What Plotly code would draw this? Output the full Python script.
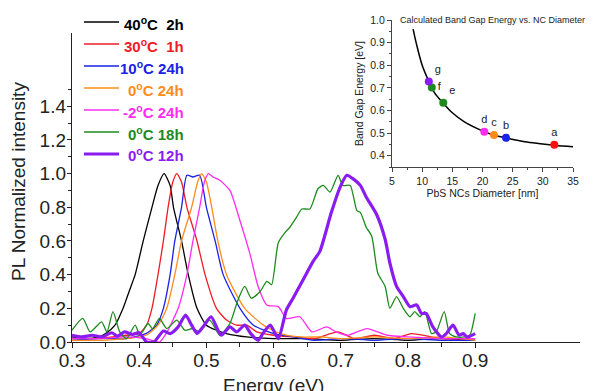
import plotly.graph_objects as go

# ---------------- main PL spectra data ----------------
black_E = [0.30,0.32,0.34,0.35,0.364,0.376,0.385,0.394,0.406,0.419,0.428,0.437,0.446,0.451,0.463,0.473,0.486,0.50,0.515,0.53,0.56,0.60,0.65,0.70,0.75,0.80,0.85,0.90]
black_I = [0.03,0.02,0.03,0.05,0.10,0.20,0.30,0.40,0.60,0.80,0.93,1.0,0.93,0.80,0.60,0.40,0.20,0.10,0.07,0.05,0.03,0.02,0.02,0.01,0.02,0.01,0.02,0.01]

red_E = [0.30,0.33,0.36,0.38,0.40,0.411,0.419,0.428,0.436,0.443,0.450,0.456,0.463,0.471,0.486,0.498,0.515,0.53,0.545,0.56,0.575,0.60,0.63,0.66,0.696,0.72,0.75,0.78,0.805,0.85,0.90]
red_I = [0.02,0.02,0.03,0.04,0.05,0.10,0.20,0.40,0.60,0.80,0.95,1.0,0.95,0.80,0.60,0.40,0.20,0.13,0.10,0.10,0.06,0.04,0.03,0.02,0.06,0.02,0.04,0.02,0.05,0.02,0.02]

blue_E = [0.30,0.34,0.38,0.41,0.426,0.436,0.446,0.453,0.463,0.471,0.48,0.49,0.50,0.513,0.525,0.55,0.57,0.60,0.63,0.66,0.70,0.75,0.80,0.85,0.90]
blue_I = [0.01,0.02,0.02,0.05,0.10,0.20,0.40,0.60,0.80,0.99,0.98,0.99,0.80,0.60,0.40,0.20,0.10,0.05,0.03,0.01,0.02,0.01,0.02,0.01,0.01]

orange_E = [0.30,0.34,0.38,0.41,0.428,0.441,0.453,0.463,0.478,0.487,0.493,0.50,0.508,0.517,0.53,0.557,0.585,0.61,0.64,0.67,0.70,0.75,0.80,0.85,0.90]
orange_I = [0.01,0.01,0.02,0.04,0.10,0.20,0.40,0.60,0.80,0.95,1.0,0.95,0.80,0.60,0.40,0.20,0.10,0.05,0.03,0.03,0.02,0.03,0.02,0.03,0.01]

magenta_E = [0.30,0.34,0.38,0.41,0.43,0.44,0.458,0.471,0.48,0.49,0.497,0.503,0.51,0.52,0.535,0.55,0.565,0.577,0.59,0.607,0.619,0.639,0.657,0.679,0.693,0.71,0.739,0.769,0.80,0.85,0.90]
magenta_I = [0.02,0.02,0.03,0.02,0.0,0.05,0.20,0.40,0.60,0.80,0.95,1.0,0.98,0.96,0.90,0.72,0.52,0.33,0.22,0.21,0.14,0.15,0.06,0.09,0.06,0.04,0.08,0.04,0.03,0.02,0.02]

green_E = [0.30,0.316,0.327,0.344,0.352,0.361,0.371,0.381,0.394,0.401,0.413,0.42,0.43,0.441,0.456,0.468,0.48,0.49,0.505,0.52,0.535,0.547,0.557,0.567,0.58,0.59,0.597,0.607,0.617,0.624,0.634,0.642,0.654,0.666,0.674,0.684,0.696,0.703,0.714,0.724,0.729,0.738,0.746,0.755,0.766,0.773,0.783,0.793,0.803,0.81,0.818,0.825,0.835,0.842,0.854,0.862,0.872,0.885,0.892,0.90]
green_I = [0.07,0.14,0.06,0.12,0.06,0.18,0.06,0.02,0.10,0.04,0.11,0.08,0.14,0.08,0.13,0.07,0.08,0.06,0.13,0.04,0.11,0.25,0.33,0.26,0.30,0.36,0.34,0.59,0.65,0.68,0.74,0.79,0.79,0.91,0.93,0.89,0.99,0.93,0.93,0.78,0.77,0.68,0.63,0.41,0.33,0.20,0.27,0.20,0.15,0.18,0.15,0.18,0.05,0.06,0.18,0.05,0.03,0.03,0.04,0.17]

purple_E = [0.30,0.315,0.33,0.345,0.359,0.368,0.378,0.39,0.40,0.411,0.422,0.436,0.446,0.458,0.469,0.478,0.486,0.495,0.507,0.522,0.535,0.545,0.557,0.566,0.577,0.584,0.595,0.607,0.619,0.629,0.644,0.659,0.669,0.686,0.699,0.709,0.718,0.729,0.738,0.753,0.766,0.773,0.783,0.793,0.803,0.813,0.82,0.827,0.837,0.85,0.857,0.867,0.876,0.882,0.888,0.90]
purple_I = [0.04,0.03,0.04,0.03,0.055,0.035,0.06,0.045,0.055,0.0,0.0,0.065,0.05,0.09,0.16,0.10,0.05,0.09,0.15,0.04,0.09,0.06,0.10,0.05,0.01,0.05,0.10,0.02,0.19,0.26,0.37,0.48,0.54,0.77,0.92,0.99,0.97,0.93,0.86,0.76,0.61,0.47,0.33,0.27,0.21,0.22,0.17,0.17,0.09,0.03,0.05,0.10,0.04,0.05,0.03,0.05]

series = [
    ("40<sup>o</sup>C&nbsp;&nbsp;2h", "#000000", black_E, black_I, 1.3),
    ("30<sup>o</sup>C&nbsp;&nbsp;1h", "#ee1c24", red_E, red_I, 1.3),
    ("10<sup>o</sup>C 24h", "#1a22e6", blue_E, blue_I, 1.3),
    ("0<sup>o</sup>C 24h", "#ff8c1a", orange_E, orange_I, 1.3),
    ("-2<sup>o</sup>C 24h", "#ff2cf0", magenta_E, magenta_I, 1.3),
    ("0<sup>o</sup>C 18h", "#1e8a1e", green_E, green_I, 1.3),
    ("0<sup>o</sup>C 12h", "#8a1cf0", purple_E, purple_I, 3.2),
]

# ---------------- inset data ----------------
fit_d = [8.5, 9, 10, 11, 12, 13.4, 15, 17, 20, 22, 24, 27, 30, 32, 35]
fit_E = [0.96, 0.90, 0.80, 0.735, 0.68, 0.635, 0.59, 0.55, 0.51, 0.49, 0.478, 0.462, 0.452, 0.445, 0.44]
pt_labels = ["a", "b", "c", "d", "e", "f", "g"]
pt_d = [31.9, 23.9, 21.9, 20.3, 13.5, 11.6, 11.1]
pt_E = [0.448, 0.479, 0.492, 0.506, 0.634, 0.701, 0.728]
pt_colors = ["#ff1010", "#1a22e6", "#ff8c1a", "#ff2cf0", "#1e8a1e", "#1e8a1e", "#8a1cf0"]
pt_textpos = ["top center", "top center", "top center", "top center", "top right", "middle right", "top right"]

# page geometry (px) used to place paper-referenced layout items
W, H = 596, 391
ML, MR, MT, MB = 72, 16, 15, 49
PW, PH = W - ML - MR, H - MT - MB
def px_x(p):
    return (p - ML) / PW
def px_y(p):
    return (H - MB - p) / PH

fig = go.Figure()
for name, color, E, I, w in series:
    fig.add_trace(go.Scatter(
        x=E, y=I, mode="lines", line=dict(color=color, width=w, shape="spline", smoothing=0.6),
        name=name, showlegend=False, xaxis="x", yaxis="y"))

fig.add_trace(go.Scatter(x=fit_d, y=fit_E, mode="lines", line=dict(color="black", width=1.5, shape="spline"),
                         xaxis="x2", yaxis="y2", showlegend=False))
fig.add_trace(go.Scatter(x=pt_d, y=pt_E, mode="markers+text", text=pt_labels, textposition=pt_textpos,
                         textfont=dict(size=11, color="#222"),
                         marker=dict(color=pt_colors, size=8), xaxis="x2", yaxis="y2", showlegend=False))

font = "Liberation Sans, Arial, sans-serif"

# hand-placed legend (right-aligned labels as in the reference)
legend_y_px = [22, 44, 66, 88, 110, 132, 154]
shapes, annotations = [], []
for (name, color, _, _, w), ypx in zip(series, legend_y_px):
    shapes.append(dict(type="line", xref="paper", yref="paper", x0=px_x(84), x1=px_x(119),
                       y0=px_y(ypx), y1=px_y(ypx), line=dict(color=color, width=w)))
    annotations.append(dict(text=f"<b>{name}</b>", xref="paper", yref="paper", x=px_x(186), y=px_y(ypx + 1),
                            xanchor="right", yanchor="middle", showarrow=False,
                            font=dict(size=15, family=font, color=color)))

annotations += [
    dict(text="Energy (eV)", x=0.6, xref="x", y=px_y(373), yref="paper", yanchor="top", xanchor="center",
         showarrow=False, font=dict(size=19, family=font, color="#222")),
    dict(text="PL Normalized intensity", x=px_x(18), xref="paper", y=px_y(182), yref="paper", textangle=-90,
         xanchor="center", yanchor="middle", showarrow=False, font=dict(size=19, family=font, color="#222")),
    dict(text="Calculated Band Gap Energy vs. NC Diameter", x=px_x(398), xref="paper", y=px_y(20), yref="paper",
         xanchor="left", yanchor="middle", showarrow=False, font=dict(size=9, family=font, color="#222")),
]

fig.update_layout(
    template="none",
    width=W, height=H,
    margin=dict(l=ML, r=MR, t=MT, b=MB),
    plot_bgcolor="white", paper_bgcolor="white",
    font=dict(family=font, color="#222"),
    showlegend=False,
    shapes=shapes,
    annotations=annotations,
    xaxis=dict(range=[0.3, 1.056], domain=[0, 1], showgrid=False, zeroline=False, automargin=False,
               showline=True, linecolor="#222", linewidth=1.2,
               tickvals=[0.3, 0.4, 0.5, 0.6, 0.7, 0.8, 0.9], ticktext=["0.3", "0.4", "0.5", "0.6", "0.7", "0.8", "0.9"],
               ticks="outside", ticklen=5, tickcolor="#222", tickfont=dict(size=19), ticklabelstandoff=-4,
               minor=dict(tickvals=[0.35, 0.45, 0.55, 0.65, 0.75, 0.85], ticks="outside", ticklen=4, tickcolor="#222")),
    yaxis=dict(range=[0, 1.835], domain=[0, px_y(33)], showgrid=False, zeroline=False, automargin=False,
               showline=True, linecolor="#222", linewidth=1.2,
               tickvals=[0, 0.2, 0.4, 0.6, 0.8, 1.0, 1.2, 1.4], ticktext=["0.0", "0.2", "0.4", "0.6", "0.8", "1.0", "1.2", "1.4"],
               ticks="outside", ticklen=4, tickcolor="#222", tickfont=dict(size=19), ticklabelstandoff=-3,
               minor=dict(tickvals=[0.1, 0.3, 0.5, 0.7, 0.9, 1.1, 1.3, 1.5], ticks="outside", ticklen=3, tickcolor="#222")),
    xaxis2=dict(range=[5, 35], domain=[px_x(392), px_x(573)], anchor="y2", showgrid=False, zeroline=False, automargin=False,
                showline=True, linecolor="#444", linewidth=1, dtick=5, ticks="outside", ticklen=4,
                tickfont=dict(size=10.5), minor=dict(dtick=2.5, ticks="outside", ticklen=2),
                title=dict(text="PbS NCs Diameter [nm]", font=dict(size=10.5), standoff=2)),
    yaxis2=dict(range=[0.35, 1.0], domain=[px_y(167), px_y(20)], anchor="x2", showgrid=False, zeroline=False, automargin=False,
                showline=True, linecolor="#444", linewidth=1, tickvals=[0.4, 0.5, 0.6, 0.7, 0.8, 0.9, 1.0],
                ticktext=["0.4", "0.5", "0.6", "0.7", "0.8", "0.9", "1.0"], ticks="outside", ticklen=4,
                tickfont=dict(size=10.5), minor=dict(dtick=0.05, ticks="outside", ticklen=2),
                title=dict(text="Band Gap Energy [eV]", font=dict(size=10.5), standoff=4)),
)

fig.write_html("out.html", config={"displayModeBar": False, "staticPlot": True},
               post_script="document.body.style.margin='0px';")
